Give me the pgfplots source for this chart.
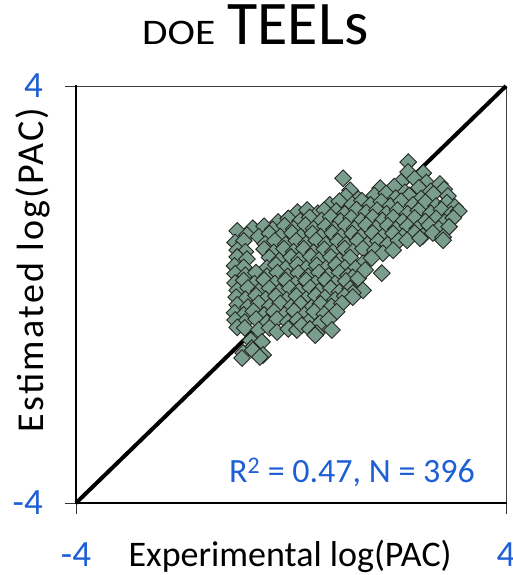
\documentclass[border=0pt]{standalone}
\usepackage{fontspec}
\setmainfont{Carlito}
\usepackage{graphicx}
\usepackage{pgfplots}
\pgfplotsset{compat=1.18}
\definecolor{tickblue}{RGB}{31,95,214}
\definecolor{ptfill}{RGB}{122,158,142}
\begin{document}
\begin{tikzpicture}
\path[use as bounding box] (0pt,0pt) rectangle (513pt,-575pt);
\begin{axis}[
  at={(76pt,-503pt)}, anchor=south west,
  scale only axis, width=430pt, height=417pt,
  xmin=-4, xmax=4, ymin=-4, ymax=4,
  axis line style={line width=1pt, black!75},
  xtick={-4,4}, ytick={-4,4},
  xtick pos=bottom, ytick pos=left,
  tick align=outside, major tick length=11pt,
  tick style={line width=0.8pt, black!80},
  /pgf/number format/assume math mode=true,
  xticklabels={-4,4}, yticklabels={-4,4},
  ticklabel style={text=tickblue, font=\fontsize{37}{37}\selectfont, inner sep=0pt},
  xticklabel style={anchor=base, yshift=-52pt},
  yticklabel style={anchor=east, xshift=-22pt},
  xlabel={Experimental log(PAC)},
  ylabel={Estimated log(PAC)},
  xlabel style={font=\fontsize{36}{36}\selectfont, at={(axis description cs:0.498,-0.152)}, anchor=base, inner sep=0pt},
  ylabel style={font=\fontsize{38}{38}\selectfont\addfontfeatures{LetterSpace=6}, at={(axis description cs:-0.0767,0.559)}, anchor=base, rotate=0, inner sep=0pt},
  title={\scalebox{1.15}[1]{\fontsize{36}{36}\selectfont DOE}\hspace{12pt}{\fontsize{62}{62}\selectfont TEELs}},
  title style={at={(axis description cs:0.1535,1.0863)}, anchor=base west, inner sep=0pt},
  clip=false,
  extra description/.code={\draw[line width=2.2pt, black, line cap=rect] (0,1)--(0,0)--(1,0);},
]
\addplot[black, line width=4pt] coordinates {(-4,-4) (4,4)};
\addplot[only marks, mark=square*, mark size=5.9pt,
  mark options={fill=ptfill, draw=black!85, line width=0.9pt, rotate=45}]
 coordinates {
 (2.18,2.54)
 (2.18,2.35) (2.46,2.33)
 (0.97,2.23) (2.05,2.16) (2.3,2.22) (2.52,2.15) (2.77,2.12)
 (1.1,2.0) (1.66,2.04) (1.92,2.07) (2.12,1.96) (2.38,2.05) (2.6,1.98) (2.85,2.02)
 (1.02,1.88) (1.25,1.83) (1.55,1.9) (1.77,1.94) (1.95,1.85) (2.2,1.9) (2.42,1.84) (2.65,1.93) (2.92,1.89)
 (0.72,1.72) (0.9,1.79) (1.14,1.73) (1.32,1.8) (1.48,1.72) (1.68,1.78) (1.85,1.7) (2.05,1.79) (2.27,1.72) (2.5,1.77) (2.7,1.7) (2.9,1.76) (3.05,1.68)
 (0.12,1.58) (0.3,1.62) (0.5,1.56) (0.62,1.62) (0.84,1.6) (1.0,1.55) (1.22,1.63) (1.4,1.57) (1.6,1.62) (1.78,1.55) (1.98,1.62) (2.17,1.55) (2.37,1.61) (2.6,1.56) (2.8,1.63) (2.98,1.54) (3.12,1.6)
 (-0.24,1.39) (-0.05,1.46) (0.17,1.41) (0.35,1.48) (0.57,1.42) (0.74,1.49) (0.92,1.41) (1.12,1.47) (1.3,1.41) (1.52,1.48) (1.7,1.42) (1.9,1.48) (2.08,1.4) (2.3,1.47) (2.5,1.4) (2.7,1.46) (2.86,1.39) (3.02,1.47)
 (-0.71,1.27) (-0.5,1.31) (-0.34,1.25) (-0.12,1.32) (0.05,1.26) (0.27,1.33) (0.42,1.26) (0.64,1.31) (0.8,1.25) (1.02,1.32) (1.18,1.26) (1.4,1.33) (1.58,1.27) (1.8,1.32) (1.95,1.25) (2.17,1.31) (2.35,1.26) (2.57,1.33) (2.75,1.26) (2.94,1.3)
 (-1.0,1.22) (-0.82,1.14) (-0.6,1.11) (-0.4,1.17) (-0.2,1.11) (0.02,1.18) (0.18,1.11) (0.4,1.17) (0.55,1.11) (0.77,1.18) (0.93,1.11) (1.14,1.17) (1.3,1.11) (1.52,1.18) (1.7,1.11) (1.9,1.17) (2.08,1.11) (2.3,1.18) (2.45,1.12) (2.64,1.18) (2.83,1.1)
 (-1.04,1.0) (-0.88,1.03) (-0.48,0.97) (-0.3,1.03) (-0.1,0.96) (0.1,1.03) (0.28,0.97) (0.47,1.04) (0.65,0.96) (0.87,1.02) (1.02,0.96) (1.24,1.03) (1.42,0.96) (1.62,1.02) (1.8,0.96) (2.0,1.03) (2.16,1.04) (2.4,1.08) (2.83,1.04)
 (-1.0,0.85) (-0.85,0.82) (-0.5,0.87) (-0.32,0.81) (-0.13,0.88) (0.05,0.82) (0.24,0.88) (0.42,0.81) (0.62,0.87) (0.78,0.81) (1.0,0.88) (1.15,0.82) (1.34,0.88) (1.56,0.85) (1.71,0.79) (1.9,0.85)
 (-1.0,0.72) (-0.82,0.68) (-0.4,0.71) (-0.22,0.65) (0.0,0.72) (0.15,0.66) (0.37,0.73) (0.52,0.66) (0.74,0.72) (0.9,0.65) (1.1,0.71) (1.34,0.6) (1.5,0.7)
 (-1.05,0.55) (-0.88,0.52) (-0.45,0.51) (-0.28,0.57) (-0.1,0.5) (0.12,0.57) (0.28,0.5) (0.48,0.56) (0.65,0.5) (0.84,0.57) (1.0,0.51) (1.2,0.5)
 (-1.04,0.4) (-0.85,0.37) (-0.65,0.42) (-0.45,0.35) (-0.25,0.42) (-0.06,0.35) (0.14,0.41) (0.32,0.35) (0.52,0.42) (0.7,0.36) (0.9,0.42) (1.06,0.36) (1.15,0.33) (1.69,0.41)
 (-1.04,0.22) (-0.88,0.27) (-0.68,0.21) (-0.5,0.28) (-0.3,0.21) (-0.1,0.27) (0.08,0.2) (0.28,0.27) (0.45,0.21) (0.64,0.28) (0.82,0.21) (1.02,0.26) (1.25,0.31) (1.38,0.47)
 (-1.0,0.08) (-0.8,0.13) (-0.6,0.06) (-0.4,0.12) (-0.22,0.05) (-0.02,0.12) (0.15,0.06) (0.36,0.13) (0.52,0.06) (0.74,0.12) (0.9,0.05) (1.1,0.11) (1.34,0.08) (1.15,0.03)
 (-1.02,-0.05) (-0.85,-0.09) (-0.65,-0.02) (-0.47,-0.09) (-0.28,-0.03) (-0.08,-0.1) (0.1,-0.03) (0.28,-0.09) (0.46,-0.02) (0.63,-0.06) (0.82,-0.1) (1.0,-0.03) (1.15,-0.05)
 (-1.0,-0.2) (-0.8,-0.24) (-0.6,-0.17) (-0.4,-0.23) (-0.2,-0.17) (0.0,-0.24) (0.18,-0.18) (0.38,-0.25) (0.55,-0.18) (0.75,-0.23) (0.95,-0.17)
 (-1.05,-0.35) (-0.88,-0.39) (-0.7,-0.32) (-0.5,-0.39) (-0.32,-0.33) (-0.12,-0.39) (0.06,-0.32) (0.25,-0.39) (0.43,-0.33) (0.62,-0.38) (0.85,-0.33)
 (-1.04,-0.49) (-0.86,-0.53) (-0.65,-0.47) (-0.45,-0.54) (-0.26,-0.47) (-0.06,-0.53) (0.12,-0.49) (0.32,-0.53) (0.54,-0.55) (0.7,-0.48)
 (-1.0,-0.63) (-0.86,-0.64) (-0.6,-0.68) (-0.4,-0.64) (-0.26,-0.72) (-0.05,-0.66) (0.11,-0.68) (0.2,-0.59) (0.35,-0.66) (0.48,-0.74) (0.76,-0.68) (0.45,-0.78)
 (-0.75,-0.88) (-0.54,-0.91) (-0.73,-1.03) (-0.89,-1.12) (-0.71,-1.07) (-0.52,-1.16) (-0.91,-1.22) (-0.58,-1.2)
 };
\node[anchor=base east, inner sep=0pt, text=tickblue, font=\fontsize{34}{34}\selectfont]
  at (axis description cs:0.928,0.048) {R\textsuperscript{2} = 0.47, N = 396};
\end{axis}
\end{tikzpicture}
\end{document}
